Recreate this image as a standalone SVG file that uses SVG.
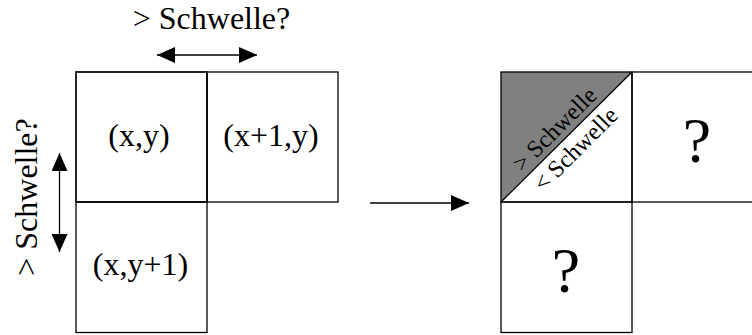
<svg xmlns="http://www.w3.org/2000/svg" width="752" height="335" viewBox="0 0 752 335">
<style>
.cell{fill:none;stroke:#000;stroke-width:1.3}
.bold{stroke-width:1.7}
text{font-family:'Liberation Serif','Times New Roman',Times,serif;fill:#000;text-anchor:middle}
.t{font-size:32px}
.s{font-size:24px}
.q{font-size:64px}
.ln{stroke:#000;stroke-width:1.3;fill:none}
</style>
<defs>
<marker id="ah" viewBox="0 0 18 16" refX="18" refY="8" markerWidth="18" markerHeight="16" markerUnits="userSpaceOnUse" orient="auto-start-reverse">
<path d="M0,0 L18,8 L0,16 Z" fill="#000"/>
</marker>
</defs>
<rect width="752" height="335" fill="#fff"/>
<g id="cell-xy">
<rect class="cell bold" x="76" y="72" width="131" height="130"/>
<text class="t" x="139" y="146">(x,y)</text>
</g>
<g id="cell-x1y">
<rect class="cell" x="207" y="72" width="131" height="130"/>
<text class="t" x="271" y="146">(x+1,y)</text>
</g>
<g id="cell-xy1">
<rect class="cell" x="76" y="202" width="131" height="130.5"/>
<text class="t" x="140.5" y="275">(x,y+1)</text>
</g>
<g id="label-top">
<text class="t" x="211.5" y="29">&gt; Schwelle?</text>
</g>
<g id="label-left">
<text class="t" transform="translate(37,197) rotate(-90)" x="0" y="0">&gt; Schwelle?</text>
</g>
<g id="res-xy">
<polygon points="501,72 632,72 501,202" fill="#808080"/>
<rect class="cell" x="501" y="72" width="131" height="130"/>
<line class="ln" x1="632" y1="72" x2="501" y2="202" stroke-width="1"/>
<text class="s" transform="translate(564.5,139) rotate(-45)" x="0" y="-6">&gt; Schwelle</text>
<text class="s" transform="translate(565,138.5) rotate(-45)" x="0" y="23">&lt; Schwelle</text>
</g>
<g id="res-x1y">
<rect class="cell" x="632" y="72" width="131" height="130"/>
<text class="q" x="697" y="162">?</text>
</g>
<g id="res-xy1">
<rect class="cell" x="501" y="202" width="131" height="130.5"/>
<text class="q" x="566" y="292">?</text>
</g>
<g id="connectors">
<line class="ln" x1="157" y1="55" x2="257" y2="55" marker-start="url(#ah)" marker-end="url(#ah)"/>
<line class="ln" x1="59.5" y1="153" x2="59.5" y2="252" marker-start="url(#ah)" marker-end="url(#ah)"/>
<line class="ln" x1="370" y1="203" x2="469" y2="203" marker-end="url(#ah)"/>
</g>
</svg>
